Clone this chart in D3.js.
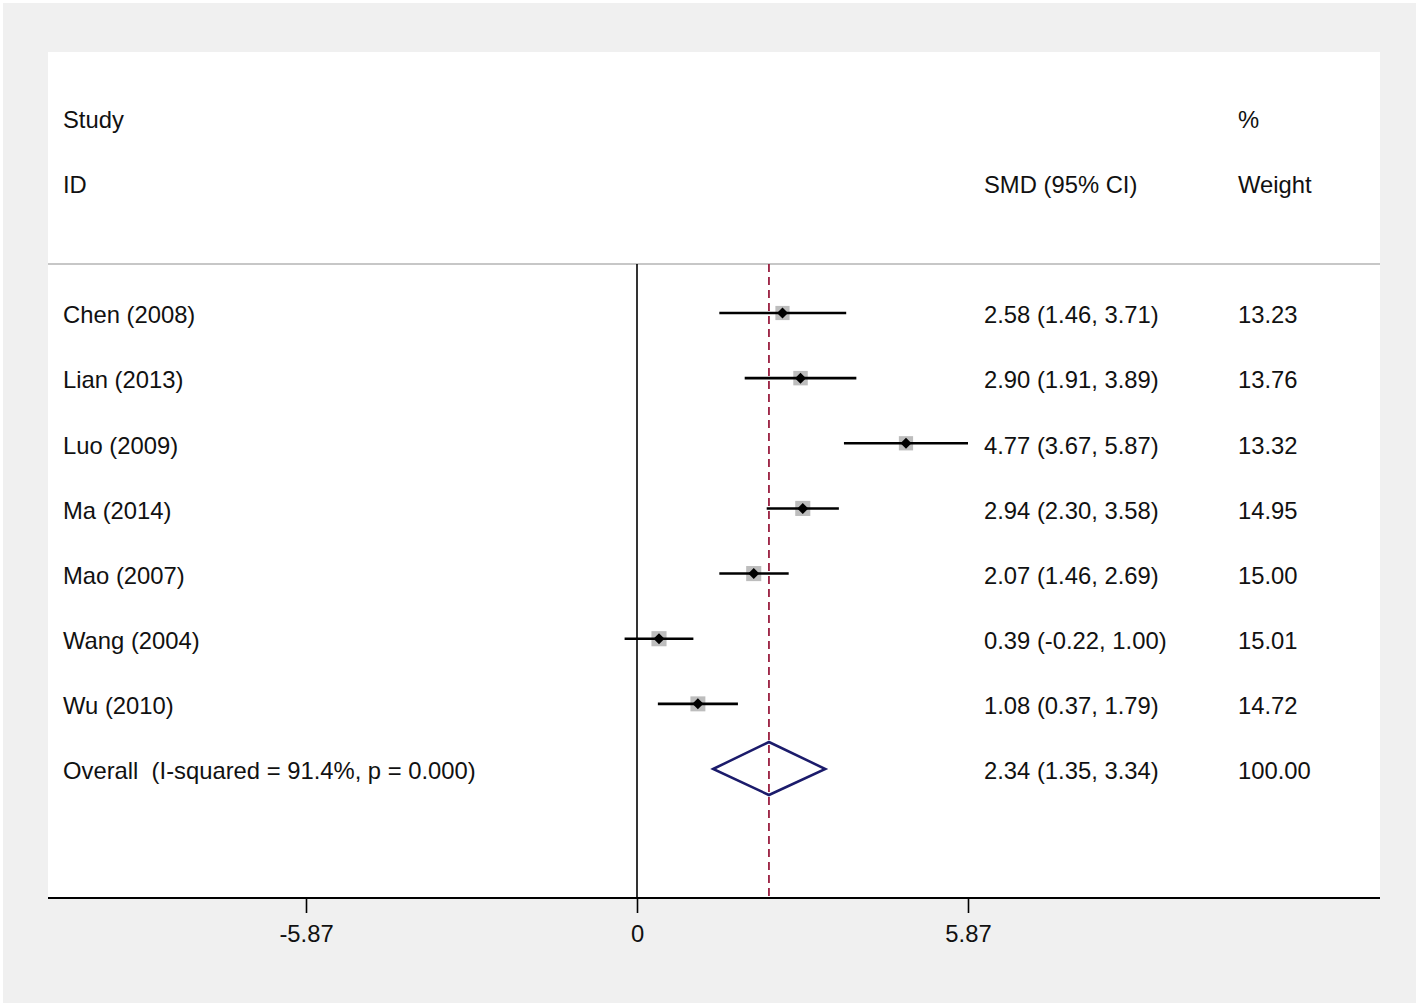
<!DOCTYPE html>
<html>
<head>
<meta charset="utf-8">
<script src="https://cdn.jsdelivr.net/npm/d3@7"></script>
<style>
  html, body { margin: 0; padding: 0; background: #ffffff; }
  text { font-family: "Liberation Sans", Arial, sans-serif; fill: #111; white-space: pre; }
</style>
</head>
<body>
<div id="chart"></div>
<script>
// Data
const studies = ["Chen (2008)", "Lian (2013)", "Luo (2009)", "Ma (2014)", "Mao (2007)", "Wang (2004)", "Wu (2010)"];
const smd = [2.58, 2.90, 4.77, 2.94, 2.07, 0.39, 1.08];
const lower = [1.46, 1.91, 3.67, 2.30, 1.46, -0.22, 0.37];
const upper = [3.71, 3.89, 5.87, 3.58, 2.69, 1.00, 1.79];
const weights = ["13.23", "13.76", "13.32", "14.95", "15.00", "15.01", "14.72"];
const overall = { label: "Overall  (I-squared = 91.4%, p = 0.000)", est: 2.34, lo: 1.35, hi: 3.34, weight: "100.00" };
const tickValues = [-5.87, 0, 5.87];
const tickLabels = ["-5.87", "0", "5.87"];

const width = 1418, height = 1006;
const panel = { left: 48, top: 52, right: 1380, bottom: 898 };

const svg = d3.select('#chart').append('svg')
    .attr('width', width)
    .attr('height', height);

// Backgrounds
svg.append('rect').attr('width', width).attr('height', height).attr('fill', '#ffffff');
svg.append('rect').attr('x', 3).attr('y', 3).attr('width', width - 5).attr('height', height - 6).attr('fill', '#f0f0f0');
svg.append('rect')
    .attr('x', panel.left).attr('y', panel.top)
    .attr('width', panel.right - panel.left).attr('height', panel.bottom - panel.top)
    .attr('fill', '#ffffff');

// Scales
const x = d3.scaleLinear().domain([-5.87, 5.87]).range([306, 968]);
const rows = studies.concat([overall.label]);
const y = d3.scalePoint().domain(rows).range([313, 769]);

const colStudy = 63, colCI = 984, colW = 1238;
const fontSize = '23.8px';

// Headers
const headers = [
    { t: 'Study', x: colStudy, y: 120 },
    { t: 'ID', x: colStudy, y: 185 },
    { t: 'SMD (95% CI)', x: colCI, y: 185 },
    { t: '%', x: colW, y: 120 },
    { t: 'Weight', x: colW, y: 185 }
];
svg.selectAll('text.header').data(headers).enter().append('text')
    .attr('class', 'header')
    .attr('x', d => d.x).attr('y', d => d.y)
    .attr('dy', '0.35em')
    .style('font-size', fontSize)
    .text(d => d.t);

// Separator line below header
svg.append('line')
    .attr('x1', panel.left).attr('x2', panel.right)
    .attr('y1', 264).attr('y2', 264)
    .attr('stroke', '#b4b4b4').attr('stroke-width', 1.5);

// Null line
svg.append('line')
    .attr('x1', x(0)).attr('x2', x(0))
    .attr('y1', 264).attr('y2', panel.bottom)
    .attr('stroke', '#000').attr('stroke-width', 1.6);

// Overall dashed line
svg.append('line')
    .attr('x1', x(overall.est)).attr('x2', x(overall.est))
    .attr('y1', 264).attr('y2', panel.bottom)
    .attr('stroke', '#9a1f40').attr('stroke-width', 1.8)
    .attr('stroke-dasharray', '8,5');

// Study rows
const rowData = studies.map((s, i) => ({ s, est: smd[i], lo: lower[i], hi: upper[i], w: weights[i] }));
const g = svg.selectAll('g.row').data(rowData).enter().append('g').attr('class', 'row');

const half = d => Math.sqrt(+d.w) * 1.95;
g.append('rect')
    .attr('x', d => x(d.est) - half(d))
    .attr('y', d => y(d.s) - half(d))
    .attr('width', d => half(d) * 2)
    .attr('height', d => half(d) * 2)
    .attr('fill', '#bdbdbd');

g.append('line')
    .attr('x1', d => x(d.lo)).attr('x2', d => x(d.hi))
    .attr('y1', d => y(d.s)).attr('y2', d => y(d.s))
    .attr('stroke', '#000').attr('stroke-width', 2.6);

g.append('path')
    .attr('d', d => {
        const cx = x(d.est), cy = y(d.s), r = 5.5;
        return `M${cx - r},${cy}L${cx},${cy - r}L${cx + r},${cy}L${cx},${cy + r}Z`;
    })
    .attr('fill', '#000');

g.append('text').attr('x', colStudy).attr('y', d => y(d.s) + 2).attr('dy', '0.35em')
    .style('font-size', fontSize).text(d => d.s);
g.append('text').attr('x', colCI).attr('y', d => y(d.s) + 2).attr('dy', '0.35em')
    .style('font-size', fontSize)
    .text(d => `${d.est.toFixed(2)} (${d.lo.toFixed(2)}, ${d.hi.toFixed(2)})`);
g.append('text').attr('x', colW).attr('y', d => y(d.s) + 2).attr('dy', '0.35em')
    .style('font-size', fontSize).text(d => d.w);

// Overall diamond
const oy = y(overall.label);
svg.append('path')
    .attr('d', `M${x(overall.lo)},${oy}L${x(overall.est)},${oy - 27}L${x(overall.hi)},${oy}L${x(overall.est)},${oy + 26}Z`)
    .attr('fill', 'none').attr('stroke', '#1b1b6b').attr('stroke-width', 2.5);

svg.append('text').attr('x', colStudy).attr('y', oy + 2).attr('dy', '0.35em')
    .attr('xml:space', 'preserve')
    .style('font-size', fontSize).text(overall.label);
svg.append('text').attr('x', colCI).attr('y', oy + 2).attr('dy', '0.35em')
    .style('font-size', fontSize)
    .text(`${overall.est.toFixed(2)} (${overall.lo.toFixed(2)}, ${overall.hi.toFixed(2)})`);
svg.append('text').attr('x', colW).attr('y', oy + 2).attr('dy', '0.35em')
    .style('font-size', fontSize).text(overall.weight);

// X axis
const axis = svg.append('g')
    .attr('transform', `translate(0,${panel.bottom})`)
    .call(d3.axisBottom(x).tickValues(tickValues).tickFormat((d, i) => tickLabels[i]).tickSize(15).tickSizeOuter(0));
axis.select('.domain').remove();
axis.selectAll('.tick line').attr('stroke', '#000').attr('stroke-width', 1.6);
axis.selectAll('.tick text')
    .attr('y', 27).attr('dy', '0.71em')
    .style('font-size', fontSize)
    .style('font-family', '"Liberation Sans", Arial, sans-serif')
    .attr('fill', '#111');
svg.append('line')
    .attr('x1', panel.left).attr('x2', panel.right)
    .attr('y1', panel.bottom).attr('y2', panel.bottom)
    .attr('stroke', '#000').attr('stroke-width', 2);
</script>
</body>
</html>
